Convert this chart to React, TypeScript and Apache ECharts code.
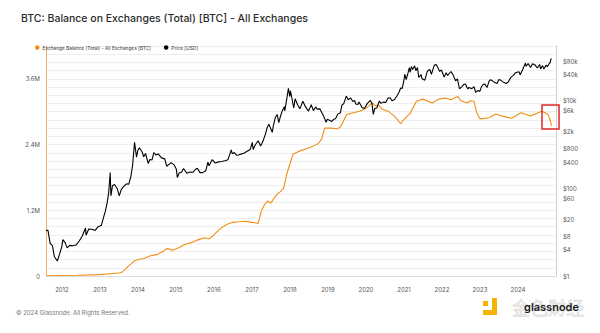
import React, { useEffect, useRef } from "react";
import * as echarts from "echarts";

const TITLE = "BTC: Balance on Exchanges (Total) [BTC] - All Exchanges";
const BALANCE_NAME = "Exchange Balance (Total) - All Exchanges [BTC]";
const PRICE_NAME = "Price [USD]";
const FOOTER = "© 2024 Glassnode. All Rights Reserved.";

const yearTicks = [2012, 2013, 2014, 2015, 2016, 2017, 2018, 2019, 2020, 2021, 2022, 2023, 2024];
const leftTicks = [0, 1200000, 2400000, 3600000];
const rightTicks = [1, 4, 8, 20, 60, 100, 400, 800, 2000, 6000, 10000, 40000, 80000];

const priceDates = [
  "2011-08-01", "2011-08-20", "2011-09-10", "2011-10-01", "2011-10-20", "2011-11-18", "2011-12-10", "2011-12-31",
  "2012-01-10", "2012-02-01", "2012-02-20", "2012-03-15", "2012-04-15", "2012-05-15", "2012-06-15", "2012-07-15",
  "2012-08-15", "2012-08-20", "2012-09-15", "2012-10-15", "2012-11-15", "2012-12-15",
  "2013-01-15", "2013-02-01", "2013-02-20", "2013-03-10", "2013-03-25", "2013-04-09", "2013-04-16", "2013-05-01",
  "2013-05-20", "2013-06-15", "2013-07-05", "2013-07-25", "2013-08-15", "2013-09-15", "2013-10-05", "2013-10-25",
  "2013-11-10", "2013-11-29", "2013-12-18", "2013-12-31",
  "2014-01-15", "2014-02-10", "2014-02-25", "2014-03-15", "2014-04-10", "2014-04-25", "2014-05-15", "2014-06-03",
  "2014-06-25", "2014-07-15", "2014-08-15", "2014-09-15", "2014-10-05", "2014-10-25", "2014-11-15", "2014-12-15",
  "2015-01-05", "2015-01-14", "2015-02-01", "2015-02-25", "2015-03-15", "2015-04-15", "2015-05-15", "2015-06-15",
  "2015-07-10", "2015-07-25", "2015-08-20", "2015-09-15", "2015-10-15", "2015-11-04", "2015-11-15", "2015-12-15",
  "2016-01-15", "2016-02-15", "2016-03-15", "2016-04-15", "2016-05-15", "2016-06-16", "2016-06-25", "2016-07-15",
  "2016-08-05", "2016-08-25", "2016-09-15", "2016-10-15", "2016-11-15", "2016-12-15",
  "2017-01-04", "2017-01-12", "2017-02-01", "2017-03-01", "2017-03-25", "2017-04-15", "2017-05-10", "2017-05-25",
  "2017-06-12", "2017-07-15", "2017-07-25", "2017-08-15", "2017-09-01", "2017-09-15", "2017-10-01", "2017-10-20",
  "2017-11-08", "2017-11-12", "2017-11-28", "2017-12-17", "2017-12-30",
  "2018-01-06", "2018-02-06", "2018-02-20", "2018-03-15", "2018-04-06", "2018-05-05", "2018-05-30", "2018-06-28",
  "2018-07-25", "2018-08-14", "2018-09-05", "2018-09-20", "2018-10-15", "2018-11-20", "2018-12-15", "2018-12-25",
  "2019-01-15", "2019-02-07", "2019-02-25", "2019-03-15", "2019-04-05", "2019-05-01", "2019-05-15", "2019-06-01",
  "2019-06-26", "2019-07-15", "2019-08-06", "2019-08-28", "2019-09-15", "2019-09-25", "2019-10-15", "2019-10-26",
  "2019-11-25", "2019-12-18",
  "2020-01-15", "2020-02-13", "2020-02-28", "2020-03-12", "2020-03-25", "2020-04-15", "2020-05-08", "2020-05-25",
  "2020-06-15", "2020-07-10", "2020-08-01", "2020-08-20", "2020-09-08", "2020-10-01", "2020-10-25", "2020-11-15",
  "2020-11-30", "2020-12-15", "2020-12-31",
  "2021-01-08", "2021-01-22", "2021-02-10", "2021-02-21", "2021-03-01", "2021-03-13", "2021-03-25", "2021-04-13",
  "2021-04-25", "2021-05-10", "2021-05-23", "2021-06-15", "2021-06-22", "2021-07-20", "2021-08-14", "2021-09-06",
  "2021-09-21", "2021-10-20", "2021-11-08", "2021-11-28", "2021-12-10", "2021-12-27",
  "2022-01-22", "2022-02-10", "2022-02-24", "2022-03-28", "2022-04-15", "2022-05-12", "2022-05-30", "2022-06-18",
  "2022-07-10", "2022-07-30", "2022-08-14", "2022-09-06", "2022-09-15", "2022-10-15", "2022-11-05", "2022-11-21",
  "2022-12-15", "2022-12-31",
  "2023-01-15", "2023-02-01", "2023-02-16", "2023-03-10", "2023-03-30", "2023-04-14", "2023-05-15", "2023-06-15",
  "2023-06-30", "2023-07-15", "2023-08-17", "2023-09-11", "2023-09-30", "2023-10-24", "2023-11-15", "2023-12-08",
  "2024-01-11", "2024-01-23", "2024-02-15", "2024-03-13", "2024-03-20", "2024-04-08", "2024-05-01", "2024-05-21",
  "2024-06-15", "2024-07-05", "2024-07-28", "2024-08-05", "2024-08-25", "2024-09-06", "2024-09-28", "2024-10-10",
  "2024-10-29", "2024-11-06", "2024-11-13", "2024-11-20",
];
const priceValues = [
  11, 11, 5.5, 5.0, 2.8, 2.2, 3.2, 4.7,
  6.8, 5.8, 4.4, 5.0, 4.9, 5.1, 6.3, 8.2,
  12.5, 8.5, 11.8, 11.7, 11.0, 13.4,
  14.5, 20.4, 29.5, 46, 78, 230, 68, 116,
  123, 100, 68, 95, 110, 128, 125, 190,
  330, 1130, 520, 740,
  850, 680, 530, 630, 370, 460, 445, 660,
  580, 620, 500, 475, 320, 355, 390, 345,
  275, 178, 225, 238, 285, 222, 238, 235,
  275, 290, 230, 230, 255, 400, 330, 455,
  380, 405, 415, 428, 455, 760, 620, 660,
  575, 580, 610, 640, 712, 780,
  1135, 780, 985, 1230, 930, 1180, 1750, 2400,
  2950, 1920, 2700, 4300, 4900, 3200, 4400, 6000,
  7400, 5900, 10000, 19300, 12500,
  17100, 6900, 11200, 8200, 6600, 9800, 7400, 5850,
  8200, 6000, 7300, 6500, 6600, 4500, 3250, 3800,
  3600, 3400, 3800, 3900, 5000, 5400, 8000, 8600,
  12900, 10600, 11800, 9700, 10300, 8500, 8300, 9500,
  7100, 6700,
  8800, 10300, 8700, 4900, 6700, 6900, 9900, 8800,
  9400, 9250, 11700, 11800, 10100, 10800, 13000, 16000,
  19700, 19400, 29000,
  40800, 30900, 44800, 57500, 45200, 61200, 52300, 63500,
  49000, 58000, 34700, 40100, 32500, 29800, 47800, 52700,
  40700, 66000, 67500, 54700, 47200, 50800,
  35000, 44000, 38300, 47100, 40500, 28900, 31700, 19000,
  21000, 23800, 24400, 18800, 20200, 19100, 21300, 15800,
  17400, 16500,
  20900, 23700, 24500, 20200, 28400, 30500, 27200, 25100,
  30500, 30300, 26600, 25100, 27000, 34500, 37800, 44000,
  46600, 39500, 51800, 73100, 62000, 71600, 57800, 71000,
  66000, 56700, 68200, 54000, 64100, 53900, 65800, 60600,
  72700, 75600, 90000, 92500,
];

const balanceDates = [
  "2011-08-01", "2012-01-01", "2012-06-01", "2013-01-01", "2013-04-01", "2013-07-01", "2013-08-01", "2013-09-01",
  "2013-10-01", "2013-11-01", "2013-12-01", "2014-01-01", "2014-03-01", "2014-05-01", "2014-07-01", "2014-09-01",
  "2014-10-01", "2014-11-01", "2014-12-01", "2015-02-01", "2015-04-01", "2015-06-01", "2015-08-01", "2015-10-01",
  "2015-11-15", "2015-12-15", "2016-01-15", "2016-03-01", "2016-05-01", "2016-07-01", "2016-09-01", "2016-11-01",
  "2017-01-01", "2017-03-01", "2017-04-01", "2017-05-01", "2017-06-01", "2017-07-01", "2017-08-01", "2017-09-01",
  "2017-10-01", "2017-11-01", "2017-12-01", "2018-01-01", "2018-02-01", "2018-04-01", "2018-06-01", "2018-08-01",
  "2018-09-01", "2018-10-01", "2018-11-01", "2018-12-01", "2019-02-01", "2019-04-01", "2019-05-01", "2019-07-01",
  "2019-09-01", "2019-11-01", "2020-01-01", "2020-03-01", "2020-04-01", "2020-05-01", "2020-06-01", "2020-08-01",
  "2020-10-01", "2020-12-01", "2021-01-01", "2021-03-01", "2021-05-01", "2021-07-01", "2021-09-01", "2021-10-01",
  "2021-12-01", "2022-02-01", "2022-04-01", "2022-06-01", "2022-07-01", "2022-09-01", "2022-10-01", "2022-11-05",
  "2022-12-01", "2023-01-01", "2023-04-01", "2023-06-01", "2023-08-01", "2023-11-01", "2024-02-01", "2024-05-01",
  "2024-08-15", "2024-09-20", "2024-10-15", "2024-11-01", "2024-11-20",
];
const balanceValues = [
  5000, 10000, 15000, 25000, 40000, 55000, 70000, 120000,
  180000, 230000, 280000, 300000, 320000, 370000, 390000, 450000,
  500000, 490000, 470000, 520000, 580000, 610000, 660000, 700000,
  680000, 720000, 780000, 860000, 940000, 980000, 990000, 1000000,
  980000, 960000, 1190000, 1300000, 1370000, 1330000, 1420000, 1500000,
  1540000, 1600000, 1860000, 2050000, 2230000, 2280000, 2320000, 2360000,
  2390000, 2420000, 2500000, 2700000, 2700000, 2690000, 2720000, 2950000,
  2980000, 3010000, 3060000, 3160000, 3110000, 3120000, 3050000, 3010000,
  2920000, 2780000, 2860000, 2970000, 3190000, 3230000, 3180000, 3160000,
  3230000, 3250000, 3220000, 3280000, 3200000, 3160000, 3200000, 3190000,
  2980000, 2870000, 2890000, 2960000, 2920000, 2880000, 2980000, 2920000,
  3010000, 2980000, 2950000, 2880000, 2740000,
];

const ORANGE = "#f28c13";
const FONT = "Inter, 'Noto Sans', sans-serif";

function toTs(d: string) {
  const [y, m, day] = d.split("-").map(Number);
  return Date.UTC(y, m - 1, day);
}

export default function App() {
  const ref = useRef<HTMLDivElement>(null);
  useEffect(() => {
    if (!ref.current) return;
    const chart = echarts.init(ref.current, null, { renderer: "svg" });
    const balanceData = balanceDates.map((d, i) => [toTs(d), balanceValues[i]]);
    const priceData = priceDates.map((d, i) => [toTs(d), priceValues[i]]);
    chart.setOption({
      animation: false,
      backgroundColor: "#ffffff",
      textStyle: { fontFamily: FONT },
      title: {
        text: TITLE,
        left: 16,
        top: 8,
        textStyle: { fontSize: 10.5, fontWeight: 500, color: "#2b2b2b", fontFamily: FONT },
      },
      legend: {
        left: 30,
        top: 40,
        itemWidth: 4.5,
        itemHeight: 4.5,
        itemGap: 13,
        textStyle: { fontSize: 4.8, color: "#333", fontFamily: FONT, padding: [0, 0, 0, -2] },
        data: [
          { name: BALANCE_NAME, icon: "circle", itemStyle: { color: ORANGE } },
          { name: PRICE_NAME, icon: "circle", itemStyle: { color: "#000" } },
        ],
      },
      grid: { left: 46, right: 44, top: 46, bottom: 57 },
      xAxis: {
        type: "value",
        min: Date.UTC(2011, 7, 1),
        max: Date.UTC(2025, 0, 1),
        axisLine: { show: true, lineStyle: { color: "#dedede", width: 1 } },
        axisTick: { show: false },
        splitLine: { show: false },
        axisLabel: {
          customValues: yearTicks.map((y) => Date.UTC(y, 0, 1)),
          formatter: (v: number) => String(new Date(v).getUTCFullYear()),
          fontSize: 6,
          color: "#555",
          margin: 10,
          fontFamily: FONT,
        },
      },
      yAxis: [
        {
          type: "value",
          position: "left",
          min: 0,
          max: 4200000,
          interval: 150000,
          axisLine: { show: true, lineStyle: { color: "#f5b26b", width: 1 } },
          axisTick: { show: false },
          splitLine: { show: true, lineStyle: { color: "#eeeeee", width: 1 } },
          axisLabel: {
            interval: 0,
            fontSize: 6,
            color: "#555",
            margin: 6,
            fontFamily: FONT,
            formatter: (v: number) => {
              if (!leftTicks.includes(v)) return "";
              return v === 0 ? "0" : (v / 1e6).toFixed(1) + "M";
            },
          },
        },
        {
          type: "log",
          position: "right",
          logBase: 10,
          min: 1,
          max: 180000,
          axisLine: { show: true, lineStyle: { color: "#cfcfcf", width: 1 } },
          axisTick: { show: false },
          splitLine: { show: false },
          axisLabel: {
            customValues: rightTicks,
            fontSize: 6,
            color: "#555",
            margin: 7,
            fontFamily: FONT,
            formatter: (v: number) => (v >= 1000 ? "$" + Math.round(v / 1000) + "k" : "$" + Math.round(v)),
          },
        },
      ],
      series: [
        {
          name: BALANCE_NAME,
          type: "line",
          yAxisIndex: 0,
          data: balanceData,
          showSymbol: false,
          lineStyle: { color: ORANGE, width: 1.1 },
          itemStyle: { color: ORANGE },
        },
        {
          name: PRICE_NAME,
          type: "line",
          yAxisIndex: 1,
          data: priceData,
          showSymbol: false,
          lineStyle: { color: "#000", width: 1.1 },
          itemStyle: { color: "#000" },
        },
      ],
      graphic: [
        {
          type: "rect",
          shape: { x: 542, y: 105, width: 17, height: 24 },
          style: { fill: "none", stroke: "#e0262b", lineWidth: 1.5 },
          z: 100,
        },
        {
          type: "text",
          x: 16,
          y: 309,
          style: { text: FOOTER, fontSize: 6, fill: "#777", fontFamily: FONT },
        },
        { type: "rect", shape: { x: 483, y: 301, width: 5, height: 5 }, style: { fill: "#f5b400" } },
        { type: "rect", shape: { x: 492, y: 298, width: 5, height: 17 }, style: { fill: "#f5b400" } },
        { type: "rect", shape: { x: 483, y: 310, width: 14, height: 5 }, style: { fill: "#f5b400" } },
        {
          type: "text",
          x: 512,
          y: 298,
          style: {
            text: "金色财经",
            fontSize: 18,
            fill: "#e6e6e6",
            stroke: "#d0d0d0",
            lineWidth: 0.5,
            fontFamily: "'Noto Sans CJK SC', sans-serif",
          },
        },
        {
          type: "text",
          x: 524,
          y: 301,
          style: { text: "glassnode", fontSize: 11, fontWeight: 600, fill: "#1a1a1a", fontFamily: FONT },
        },
      ],
    });
    return () => chart.dispose();
  }, []);
  return <div ref={ref} style={{ position: "fixed", left: 0, top: 0, width: 600, height: 333 }} />;
}
